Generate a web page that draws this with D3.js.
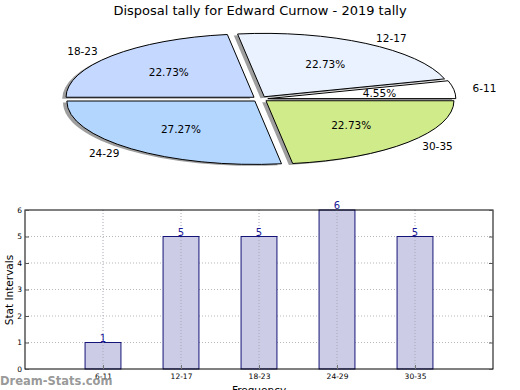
<!DOCTYPE html>
<html><head><meta charset="utf-8">
<script src="https://cdn.jsdelivr.net/npm/d3@7"></script>
<style>body{margin:0;background:#fff}svg{display:block}text{font-family:"DejaVu Sans",sans-serif}</style>
</head><body>
<svg id="c" width="520" height="390"></svg>
<script>
const categories = ["6-11","12-17","18-23","24-29","30-35"];
const values = [1,5,5,6,5];
const sliceColors = ["#ffffff","#eaf2ff","#c5d8ff","#b3d6ff","#d0eb8a"];
const yTicks = [0,1,2,3,4,5,6];
const title = "Disposal tally for Edward Curnow - 2019 tally";

const svg = d3.select("#c");
svg.append("text").attr("x",260).attr("y",15).attr("text-anchor","middle")
  .attr("font-size",13).attr("fill","#000").text(title);

// ---- Pie ----
const cx=260, cy=99, rx=188, ry=63.4, ex=0.042;
const total = d3.sum(values);
const pie = d3.pie().sort(null).startAngle(Math.PI/2).endAngle(Math.PI/2-2*Math.PI);
const arcs = pie(values);
const arc = d3.arc().innerRadius(0).outerRadius(1);
const pg = svg.append("g");
function off(d,k){const m=(d.startAngle+d.endAngle)/2;return [Math.sin(m)*k*rx, -Math.cos(m)*k*ry];}
// shadows
arcs.forEach((d,i)=>{
  const o=off(d,ex);
  pg.append("path").attr("d",arc(d))
    .attr("transform",`translate(${cx+o[0]-3.8},${cy+o[1]+1.4}) scale(${rx},${ry})`)
    .attr("fill","#000").attr("fill-opacity",0.38);
});
arcs.forEach((d,i)=>{
  const o=off(d,ex);
  pg.append("path").attr("d",arc(d))
    .attr("transform",`translate(${cx+o[0]},${cy+o[1]}) scale(${rx},${ry})`)
    .attr("fill",sliceColors[i]).attr("stroke","#000").attr("stroke-width",1)
    .attr("vector-effect","non-scaling-stroke");
});
arcs.forEach((d,i)=>{
  const o=off(d,ex), l=off(d,1.1), p=off(d,0.6);
  const lx=cx+o[0]+l[0], ly=cy+o[1]+l[1];
  pg.append("text").attr("x",lx).attr("y",ly).attr("dy","0.35em")
    .attr("text-anchor", l[0]>0?"start":"end").attr("font-size",10.5).text(categories[i]);
  const pct=(values[i]/total*100).toFixed(2)+"%";
  pg.append("text").attr("x",cx+o[0]+p[0]).attr("y",cy+o[1]+p[1]).attr("dy","0.35em")
    .attr("text-anchor","middle").attr("font-size",10.5).text(pct);
});

// ---- Bar chart ----
const L=25,R=493,T=210,B=369;
const x = d3.scaleLinear().domain([0,categories.length+1]).range([L,R]);
const y = d3.scaleLinear().domain([0,6]).range([B,T]);
const bg = svg.append("g");
// horizontal grid
bg.selectAll(".hg").data(yTicks.slice(1,-1)).join("line")
  .attr("x1",L).attr("x2",R).attr("y1",d=>y(d)).attr("y2",d=>y(d))
  .attr("stroke","#b8b8b8").attr("stroke-dasharray","1,2");
const bw = x(0.46)-x(0);
bg.selectAll(".bar").data(values).join("rect")
  .attr("x",(d,i)=>x(i+1)-bw/2).attr("width",bw)
  .attr("y",d=>y(d)).attr("height",d=>B-y(d))
  .attr("fill","#cccce6").attr("stroke","#141478").attr("stroke-width",1);
// vertical grid
bg.selectAll(".vg").data(categories).join("line")
  .attr("x1",(d,i)=>x(i+1)).attr("x2",(d,i)=>x(i+1)).attr("y1",T).attr("y2",B)
  .attr("stroke","#a8a8b8").attr("stroke-dasharray","1,2");
// frame
bg.append("rect").attr("x",L).attr("y",T).attr("width",R-L).attr("height",B-T)
  .attr("fill","none").attr("stroke","#000").attr("stroke-width",1);
// y axis ticks & labels
const ya = d3.axisLeft(y).tickValues(yTicks).tickSize(-4).tickPadding(3).tickFormat(d3.format("d"));
const yg = bg.append("g").attr("transform",`translate(${L},0)`).call(ya);
yg.select(".domain").remove();
yg.selectAll("text").attr("font-size",7.5).attr("font-family","DejaVu Sans");
yg.selectAll("line").attr("stroke","#555");
const yr = d3.axisRight(y).tickValues(yTicks).tickSize(-4).tickFormat("");
const yrg = bg.append("g").attr("transform",`translate(${R},0)`).call(yr);
yrg.select(".domain").remove(); yrg.selectAll("line").attr("stroke","#555");
// x axis
const xa = d3.axisBottom(x).tickValues(d3.range(1,categories.length+1)).tickSize(-4).tickPadding(5)
  .tickFormat(d=>categories[d-1]);
const xg = bg.append("g").attr("transform",`translate(0,${B})`).call(xa);
xg.select(".domain").remove();
xg.selectAll("text").attr("font-size",7.5).attr("font-family","DejaVu Sans");
xg.selectAll("line").attr("stroke","#777");
// value labels
bg.selectAll(".vl").data(values).join("text")
  .attr("x",(d,i)=>x(i+1)).attr("y",d=>y(d)-1).attr("text-anchor","middle")
  .attr("font-size",10).attr("fill","#1a1a99").text(d=>d);
// axis labels
svg.append("text").attr("transform","translate(13,290) rotate(-90)").attr("text-anchor","middle")
  .attr("font-size",10.5).text("Stat Intervals");
svg.append("text").attr("x",259).attr("y",394).attr("text-anchor","middle")
  .attr("font-size",10.5).text("Frequency");
// watermark
svg.append("text").attr("x",0).attr("y",385).attr("font-size",11.5).attr("font-weight","bold")
  .attr("fill","#8c8c8c").attr("fill-opacity",0.9).text("Dream-Stats.com");
</script>
</body></html>
